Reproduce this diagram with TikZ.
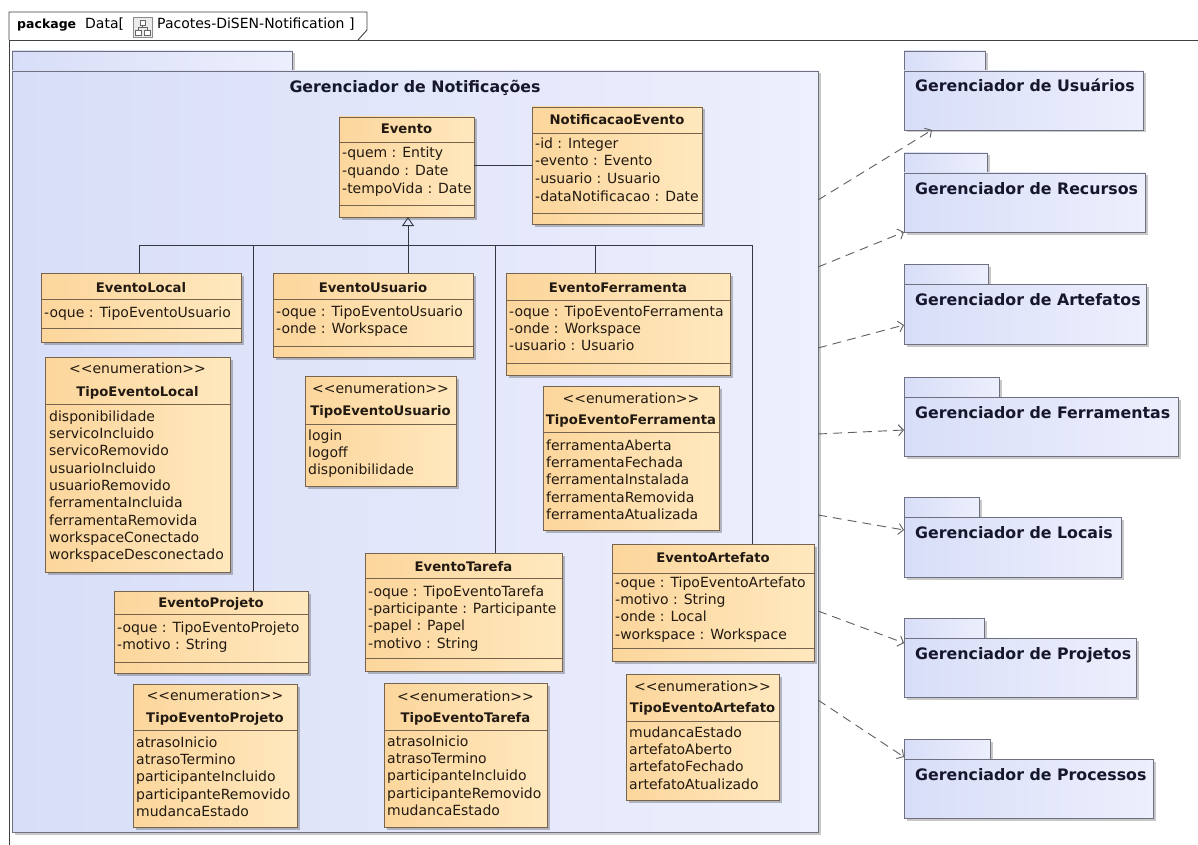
\documentclass[tikz,border=0pt]{standalone}
\usepackage{fontspec}
\setmainfont{DejaVu Sans}
\usetikzlibrary{fit,shadows,arrows.meta,calc}

\definecolor{clsA}{RGB}{252,214,156}
\definecolor{clsB}{RGB}{255,232,190}
\definecolor{clsline}{RGB}{118,100,78}
\definecolor{pkgA}{RGB}{216,222,248}
\definecolor{pkgB}{RGB}{236,239,252}
\definecolor{pkgline}{RGB}{112,112,128}
\definecolor{ink}{RGB}{34,26,18}
\definecolor{pkgink}{RGB}{22,22,44}
\definecolor{wire}{RGB}{55,55,65}
\definecolor{depgray}{RGB}{95,95,100}

% a class box spanning two corners
\newcommand\uclass[5]{\node[classbox, fit={(#2,#3) (#4,#5)}] (#1) {};}
% a compartment separator at height #2
\newcommand\usep[2]{\draw[clssep] (#1.west |- 0,#2) -- (#1.east |- 0,#2);}
% class name, baseline at #2
\newcommand\utitle[3]{\node[ctitle] (#1-t) at (#1.north |- 0,#2) {#3};}
% stereotype line, baseline at #2
\newcommand\ustereo[2]{\node[cstereo] (#1-s) at (#1.north |- 0,#2) {<\kern0pt<enumeration>\kern0pt>};}
% member list, first baseline at #3
\newcommand\umembers[4][]{\node[cmembers,#1] (#2-m) at (#2.west |- 0,#3) {\rule{0pt}{12pt}#4};}
% package: name, left, tab top, tab right, body top, right, bottom, label
\newcommand\upkg[8]{%
  \node[pkgbox, fit={(#2,#3) (#4,#5)}] (#1-tab) {};
  \node[pkgbox, fit={(#2,#5) (#6,#7)}] (#1) {};
  \node[pkglabel] (#1-l) at (#2+11,#5+21) {#8};}

\begin{document}
\begin{tikzpicture}[x=1pt,y=-1pt,
  classbox/.style={draw=clsline, line width=0.9pt, inner sep=0pt, outer sep=0pt,
    left color=clsA, right color=clsB,
    drop shadow={shadow xshift=2.5pt, shadow yshift=-2.5pt, opacity=0.35, fill=black!70}},
  clssep/.style={draw=clsline, line width=0.9pt},
  pkgbox/.style={draw=pkgline, line width=0.9pt, inner sep=0pt, outer sep=0pt,
    left color=pkgA, right color=pkgB,
    drop shadow={shadow xshift=2.5pt, shadow yshift=-2.5pt, opacity=0.3, fill=black!70}},
  ctitle/.style={anchor=base, inner sep=0pt, text=ink, font=\fontsize{13.2}{15}\selectfont\bfseries},
  cstereo/.style={anchor=base, inner sep=0pt, text=ink, font=\fontsize{14}{16}\selectfont},
  cmembers/.style={anchor=north west, xshift=3pt, yshift=12pt, inner sep=0pt, align=left,
    text=ink, font=\fontsize{14}{17.3}\selectfont},
  pkglabel/.style={anchor=base west, inner sep=0pt, text=pkgink, font=\fontsize{15.8}{18}\selectfont\bfseries},
  pkgtitle/.style={anchor=base, inner sep=0pt, text=pkgink, font=\fontsize{15.8}{18}\selectfont\bfseries},
  conn/.style={draw=wire, line width=0.9pt},
  gen/.style={conn, -{Triangle[open, length=9pt, width=12pt]}},
  dep/.style={draw=depgray, line width=0.9pt, dash pattern=on 9pt off 6pt,
    -{Straight Barb[length=5pt, width=11pt]}},
  frameline/.style={draw=black!75, line width=0.9pt},
  hdr/.style={anchor=base west, inner sep=0pt, text=black}
]
\useasboundingbox (0,0) rectangle (1198,845);
\fill[white] (0,0) rectangle (1198,845);

% diagram frame and its name tab
\draw[frameline] (9,845) -- (9,40) -- (1198,40);
\draw[frameline] (9,40) -- (9,12) -- (367,12) -- (367,30) -- (358,40);
\node[hdr] (hdr-kw) at (17,29) {\fontsize{12.5}{14}\selectfont\bfseries package};
\node[hdr] (hdr-data) at (85,29) {\fontsize{14}{16}\selectfont Data[};
\node[draw=black!45, fill=black!8, line width=0.6pt, inner sep=0pt, outer sep=0pt,
      fit={(133,17) (152,37)}] (diagicon) {};
\draw[black!60, line width=0.6pt, fill=white] (140,20) rectangle (145.5,25);
\draw[black!60, line width=0.6pt, fill=white] (135.5,30) rectangle (141,35);
\draw[black!60, line width=0.6pt, fill=white] (144.5,30) rectangle (150,35);
\draw[black!60, line width=0.6pt] (142.75,25) -- (142.75,27.5) (138.25,27.5) -- (147.25,27.5)
  (138.25,27.5) -- (138.25,30) (147.25,27.5) -- (147.25,30);
\node[hdr] (hdr-name) at (157,29) {\fontsize{14}{16}\selectfont Pacotes-DiSEN-Notification ]};

% notification package
\node[pkgbox, fit={(12,51) (292,71)}] (pnotif-tab) {};
\node[pkgbox, fit={(12,71) (818,832)}] (pnotif) {};
\node[pkgtitle] (pnotif-l) at (415,93) {Gerenciador de Notificações};

% neighbouring packages
\upkg{pusu}{904}{51}{985}{71}{1143}{130}{Gerenciador de Usuários}
\upkg{prec}{904}{153}{987}{173}{1145}{232}{Gerenciador de Recursos}
\upkg{part}{904}{264}{988}{284}{1146}{344}{Gerenciador de Artefatos}
\upkg{pfer}{904}{377}{999}{397}{1178}{456}{Gerenciador de Ferramentas}
\upkg{ploc}{904}{497}{979}{517}{1121}{577}{Gerenciador de Locais}
\upkg{pproj}{904}{618}{984}{638}{1136}{697}{Gerenciador de Projetos}
\upkg{pproc}{904}{739}{990}{759}{1153}{818}{Gerenciador de Processos}

% dependencies
\draw[dep] (pnotif.east |- 0,200) -- (pusu.south -| 932,0);
\draw[dep] (pnotif.east |- 0,267) -- (prec.south west);
\draw[dep] (pnotif.east |- 0,348) -- (part.west |- 0,325);
\draw[dep] (pnotif.east |- 0,434) -- (pfer.west |- 0,430);
\draw[dep] (pnotif.east |- 0,515) -- (ploc.west |- 0,530);
\draw[dep] (pnotif.east |- 0,611) -- (pproj.west |- 0,643);
\draw[dep] (pnotif.east |- 0,700) -- (pproc.west |- 0,757);

% classes
\uclass{evento}{339}{117}{474}{217}
\usep{evento}{142}\usep{evento}{205}
\utitle{evento}{134}{Evento}
\umembers[font=\fontsize{14}{18}\selectfont]{evento}{157}{-quem : Entity\\-quando : Date\\-tempoVida : Date}

\uclass{notif}{532}{107}{702}{224}
\usep{notif}{133}\usep{notif}{213}
\utitle{notif}{125}{NotificacaoEvento}
\umembers[font=\fontsize{14}{17.7}\selectfont]{notif}{148}{-id : Integer\\-evento : Evento\\-usuario : Usuario\\-dataNotificacao : Date}

\uclass{elocal}{41}{273}{241}{342}
\usep{elocal}{299}\usep{elocal}{328}
\utitle{elocal}{292}{EventoLocal}
\umembers{elocal}{317}{-oque : TipoEventoUsuario}

\uclass{eusu}{273}{273}{473}{357}
\usep{eusu}{299}\usep{eusu}{346}
\utitle{eusu}{292}{EventoUsuario}
\umembers{eusu}{316}{-oque : TipoEventoUsuario\\-onde : Workspace}

\uclass{eferr}{506}{273}{730}{375}
\usep{eferr}{300}\usep{eferr}{363}
\utitle{eferr}{292}{EventoFerramenta}
\umembers{eferr}{316}{-oque : TipoEventoFerramenta\\-onde : Workspace\\-usuario : Usuario}

\uclass{eproj}{114}{591}{308}{673}
\usep{eproj}{614}\usep{eproj}{662}
\utitle{eproj}{607}{EventoProjeto}
\umembers{eproj}{632}{-oque : TipoEventoProjeto\\-motivo : String}

\uclass{etar}{365}{553}{562}{671}
\usep{etar}{578}\usep{etar}{658}
\utitle{etar}{571}{EventoTarefa}
\umembers{etar}{596}{-oque : TipoEventoTarefa\\-participante : Participante\\-papel : Papel\\-motivo : String}

\uclass{eart}{612}{544}{814}{661}
\usep{eart}{573}\usep{eart}{648}
\utitle{eart}{562}{EventoArtefato}
\umembers{eart}{587}{-oque : TipoEventoArtefato\\-motivo : String\\-onde : Local\\-workspace : Workspace}

% enumerations
\uclass{tlocal}{45}{357}{230}{572}
\usep{tlocal}{404}
\ustereo{tlocal}{373}
\utitle{tlocal}{396}{TipoEventoLocal}
\umembers[xshift=1pt]{tlocal}{421}{disponibilidade\\servicoIncluido\\servicoRemovido\\usuarioIncluido\\usuarioRemovido\\ferramentaIncluida\\ferramentaRemovida\\workspaceConectado\\workspaceDesconectado}

\uclass{tusu}{305}{376}{456}{486}
\usep{tusu}{424}
\ustereo{tusu}{393}
\utitle{tusu}{415}{TipoEventoUsuario}
\umembers{tusu}{440}{login\\logoff\\disponibilidade}

\uclass{tferr}{543}{386}{719}{530}
\usep{tferr}{432}
\ustereo{tferr}{403}
\utitle{tferr}{424}{TipoEventoFerramenta}
\umembers{tferr}{450}{ferramentaAberta\\ferramentaFechada\\ferramentaInstalada\\ferramentaRemovida\\ferramentaAtualizada}

\uclass{tproj}{133}{684}{297}{827}
\usep{tproj}{730}
\ustereo{tproj}{700}
\utitle{tproj}{722}{TipoEventoProjeto}
\umembers{tproj}{747}{atrasoInicio\\atrasoTermino\\participanteIncluido\\participanteRemovido\\mudancaEstado}

\uclass{ttar}{384}{683}{547}{827}
\usep{ttar}{730}
\ustereo{ttar}{701}
\utitle{ttar}{722}{TipoEventoTarefa}
\umembers{ttar}{746}{atrasoInicio\\atrasoTermino\\participanteIncluido\\participanteRemovido\\mudancaEstado}

\uclass{tart}{626}{674}{779}{800}
\usep{tart}{721}
\ustereo{tart}{691}
\utitle{tart}{712}{TipoEventoArtefato}
\umembers{tart}{737}{mudancaEstado\\artefatoAberto\\artefatoFechado\\artefatoAtualizado}

% association and generalization tree
\draw[conn] (evento.east |- 0,165) -- (notif.west |- 0,165);
\coordinate (b1) at (139,245);
\coordinate (b2) at (253,245);
\coordinate (b3) at (408,245);
\coordinate (b4) at (495,245);
\coordinate (b5) at (595,245);
\coordinate (b6) at (752,245);
\draw[conn] (b1) -- (b6);
\draw[gen] (b3) -- (evento.south -| b3);
\draw[conn] (b1) -- (b1 |- elocal.north);
\draw[conn] (b2) -- (b2 |- eproj.north);
\draw[conn] (b3) -- (b3 |- eusu.north);
\draw[conn] (b4) -- (b4 |- etar.north);
\draw[conn] (b5) -- (b5 |- eferr.north);
\draw[conn] (b6) -- (b6 |- eart.north);
\end{tikzpicture}
\end{document}
